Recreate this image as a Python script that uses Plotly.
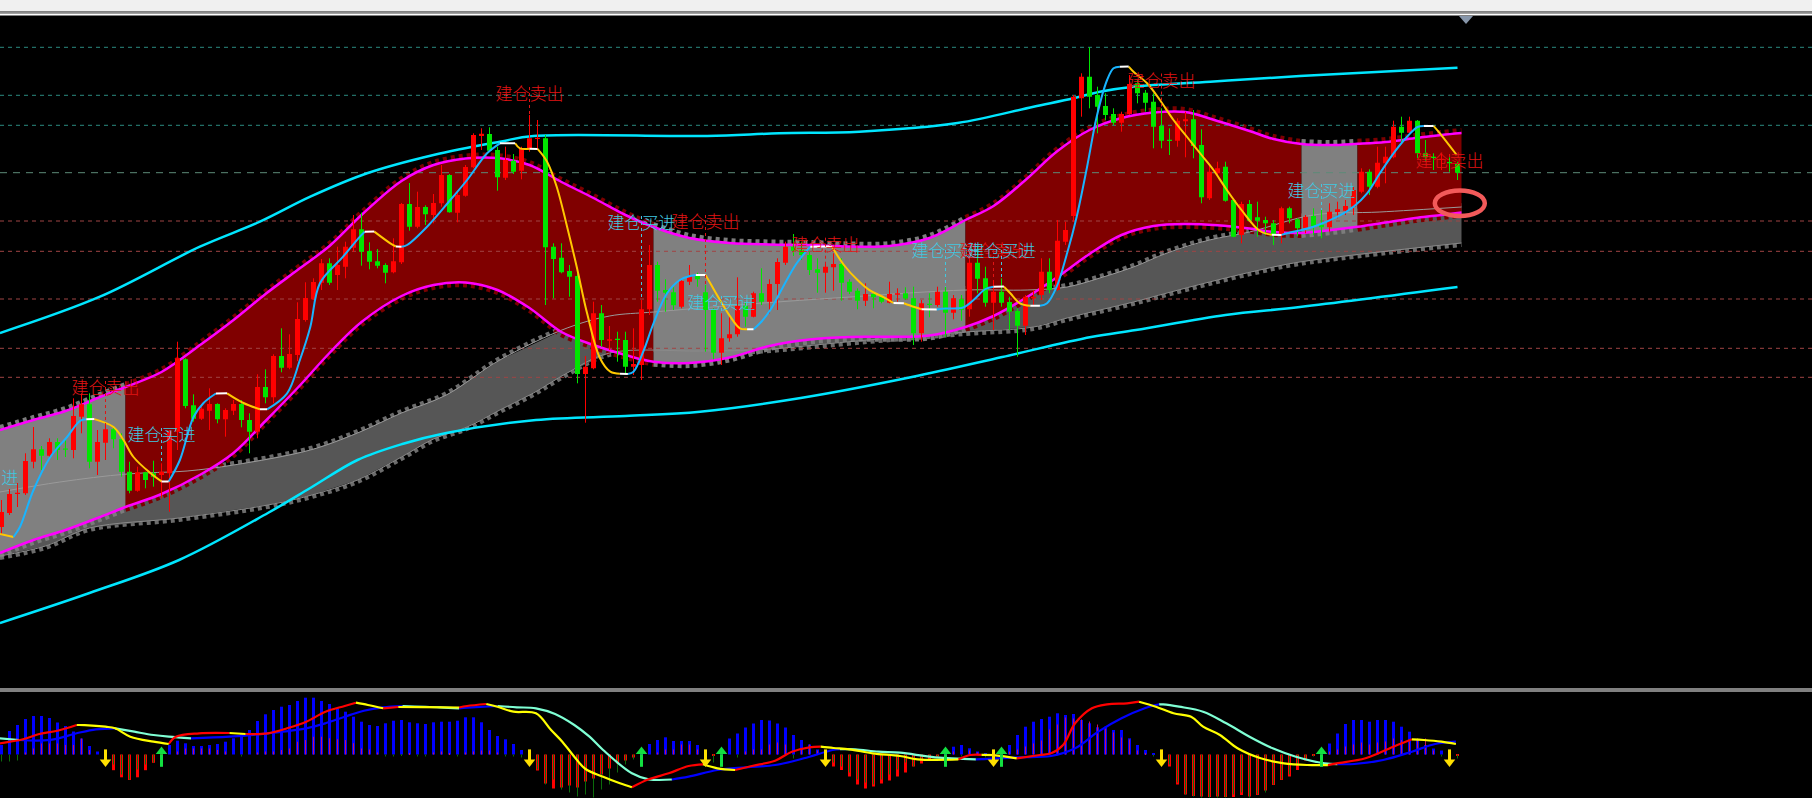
import plotly.graph_objects as go

# ---------------- price candles (main panel) ----------------
OPEN = [173, 187, 206, 206.7, 238.3, 250.7, 244.3, 258, 251, 250,
        283.3, 295.7, 238.3, 257.3, 270.7, 260.7, 228.3, 209.3, 227.7, 226.7,
        225, 226.7, 268.3, 340.7, 294.7, 281.3, 289.3, 296, 280.7, 289.3,
        296, 280, 268.3, 313, 302.7, 344, 332.3, 345, 380, 400.7,
        417.3, 436.7, 425, 433.3, 452.3, 470.7, 449, 438.7, 435, 427.7,
        437.7, 496, 473.3, 493, 485, 496.7, 525, 487.3, 504.3, 532.7,
        564, 566, 550, 522.3, 539.3, 529.3, 550.7, 561, 561.7, 453.3,
        442.3, 429, 424, 326, 331.7, 386.7, 359.3, 361.3, 360, 333.3,
        335, 390.7, 435, 410, 407.7, 393.3, 418.3, 424, 407.7, 390,
        347.3, 361.7, 365.7, 394, 383.3, 406.7, 398.3, 416, 437.3, 453.3,
        450, 445, 430.7, 427.3, 432.7, 436, 418.3, 409.3, 399.3, 406,
        403.3, 397.3, 405.3, 406.7, 401.7, 366.7, 396, 395, 408.3, 387.3,
        400.7, 390.7, 437.3, 421.7, 397.3, 408.3, 398, 389, 374.3, 401.7,
        405, 428.3, 410, 458.3, 484, 601.7, 623.3, 605, 594, 586,
        577.3, 586, 616.7, 607.3, 598.3, 574, 560, 559.3, 578.7, 580.7,
        555, 501.7, 526.7, 533.3, 500, 465, 496, 482.7, 480, 476.7,
        465, 491.7, 480.7, 471.7, 484, 475.3, 472.7, 488, 489.3, 493.3,
        508.3, 528.3, 513.3, 536.7, 542.7, 573.3, 567.3, 579.3, 546.7, 542.7,
        540, 537.3, 536]
HIGH = [200, 211, 217, 246.7, 273, 254, 261.7, 261.7, 260, 301.7,
        306.7, 306.7, 270, 275, 273.3, 266.7, 238.3, 233.3, 228.3, 239.3,
        236.7, 270, 358.3, 341.7, 305.7, 293.3, 311.7, 296.7, 291.7, 300,
        300, 286.7, 325.7, 330.7, 345.7, 371.7, 365.7, 397.7, 417.7, 421.7,
        441, 441.7, 453.3, 458.3, 485, 487.3, 457.7, 451, 436.7, 461.7,
        497, 517, 508.3, 494.7, 506, 535, 526, 508.3, 535, 566.7,
        571.7, 572.7, 553.3, 553.3, 546, 553.3, 585, 580, 565, 456.7,
        456.7, 435, 426.7, 344, 398.3, 395, 374, 368.3, 368.3, 371.7,
        400, 455, 438.3, 420.7, 412.7, 420.7, 435, 427.3, 415, 391.7,
        386.7, 385, 422.7, 398.3, 408.3, 431.7, 420.7, 441.7, 458.3, 466,
        458.3, 448.3, 441.7, 436, 446.7, 441.7, 420.7, 411.7, 416.7, 408.3,
        405, 418.3, 411.7, 412.7, 413.3, 400, 406.7, 413.3, 413.3, 405,
        405, 446.7, 453.3, 433.3, 420, 421.7, 403.3, 391.7, 405, 410,
        441.7, 441.7, 480, 478.3, 605, 626.7, 652.7, 613.3, 606.7, 591.7,
        588.3, 625, 620, 610, 606.7, 591.7, 571.7, 581.7, 588.3, 590,
        570.7, 535, 538.3, 538.3, 501.7, 498.3, 500, 498.3, 483.3, 480,
        493.3, 493.3, 481.7, 485, 491.7, 490, 496.7, 498.3, 500, 514,
        531.7, 530.7, 553.3, 553.3, 579.3, 583.3, 583.3, 580, 560, 546.7,
        546.7, 542.7, 538.3]
LOW = [165, 185, 193, 205, 231.7, 230, 240, 240, 243, 241.7,
       266.7, 231.7, 225, 240, 251.7, 223.3, 206.7, 208.3, 211.7, 213.3,
       201.7, 188.3, 250, 291.7, 278.3, 280, 270, 276.7, 263.3, 285,
       272.7, 246.7, 261.7, 296.7, 296.7, 327.7, 330.7, 339, 378.3, 400,
       410, 415, 410, 421.7, 448.3, 434.3, 430.7, 431.7, 416.7, 426.7,
       436, 469.3, 471.7, 475, 476.7, 493.3, 487.3, 477.7, 503.3, 531.7,
       550, 548.3, 509.3, 520, 526, 520.7, 548.3, 550, 395, 401.7,
       426.7, 403.3, 316.7, 277.3, 330.7, 353.3, 350, 338.3, 326.7, 325,
       320, 385, 398.3, 388.3, 390, 391.7, 415, 413.3, 348.3, 340.7,
       335, 358.3, 363.3, 373.3, 382.7, 395, 386.7, 390, 435, 444,
       440, 425, 407.3, 407.3, 409.3, 399.3, 406, 390.7, 394, 391.7,
       396.7, 396.7, 398.3, 400, 355, 358.3, 382.7, 393.3, 363.3, 380.7,
       379.3, 383.3, 406.7, 393.3, 370, 393.3, 370, 343.3, 365, 393.3,
       400, 406.7, 409.3, 455, 478.3, 583.3, 591.7, 566.7, 580, 575,
       568.3, 585, 596.7, 588.3, 551.7, 551.7, 545, 553.3, 542.7, 541.7,
       496.7, 500, 523.3, 498.3, 462.7, 456.7, 478.3, 463.3, 465, 455,
       456.7, 476.7, 464, 466.7, 465, 461.7, 468.3, 481.7, 485, 485,
       506.7, 505, 511.7, 516.7, 541.7, 558.3, 566.7, 541.7, 538.3, 530,
       530, 528.3, 520]
CLOSE = [188, 206, 207.3, 239, 250.7, 244.3, 258, 250, 250.3, 284,
         295.7, 238.3, 258, 270.7, 260.7, 228.3, 209.3, 227.7, 220, 223.3,
         228.3, 269.3, 341.7, 294, 281.3, 291.3, 296, 280.7, 290, 296,
         280, 268.3, 313, 302.7, 344, 332.3, 346, 381, 402, 418,
         436.7, 417.3, 435, 453.3, 470.7, 448.3, 438.3, 434.3, 427.3, 438.7,
         496, 473.3, 493, 485.7, 497, 525, 487.7, 505, 533, 565,
         566.3, 549.3, 522.7, 540, 528.3, 551.7, 561.7, 562.3, 452.7, 441,
         427.7, 423.3, 326, 333.3, 386.7, 360, 360.7, 360, 333.3, 336,
         390.7, 435, 409.3, 407.3, 394.7, 419, 424, 420.7, 390, 347.3,
         361.7, 365.7, 394, 383.3, 406.7, 398.3, 416, 438, 453.3, 449.3,
         445, 430, 427.3, 433.3, 436, 417.3, 408.3, 399.3, 406, 402.7,
         398.3, 406, 406.7, 401.5, 366.7, 396.7, 395, 408.3, 387.3, 401.7,
         390, 437.3, 421.3, 397.3, 408.3, 397.3, 388.3, 374.3, 403.3, 403.3,
         428.3, 410, 459.3, 470, 603.3, 623.3, 603.3, 593.3, 585, 577.3,
         586, 616, 606.7, 597.3, 573.3, 559.3, 559, 579.3, 580.7, 554,
         502.7, 528.3, 531.7, 499.3, 463.3, 496, 479.3, 479.3, 476.7, 465,
         491.7, 481.7, 471.7, 483.3, 474, 472.7, 488.3, 490.7, 494, 510,
         528.3, 513.3, 537.3, 543.3, 573.3, 567.3, 579.3, 546.7, 542.7, 542,
         541.3, 536.7, 527.3]
N = len(OPEN)
IDX = list(range(N))

# ---------------- channel band (magenta) ----------------
BAND_I = [-0.2, 4, 8, 12, 15.5, 20, 25, 29, 33, 37, 41, 45, 50, 54, 58, 62, 66, 70, 74, 78,
          81.5, 86, 91, 96, 101, 106, 111, 116, 120.5, 124, 128, 132, 136, 140, 144, 148,
          152, 156, 159, 162.5, 166, 169.5, 173, 177, 180, 182.5]
BAND_UP = [270, 280, 289, 302, 313, 328, 356, 380, 406, 430, 454, 485, 519, 535, 541.5, 542,
           535, 518, 502, 485, 473, 462, 457, 455.5, 455, 453.5, 454, 462, 480, 494, 520, 549,
           570, 582, 587.5, 588, 579, 569, 561, 556, 555, 556.2, 558, 562.2, 565, 567]
BAND_LO = [147, 160, 170, 182, 193, 206, 226, 247, 279, 312, 347, 378, 404, 415, 417.5, 410,
           392, 368, 355, 345, 338.3, 337, 342.5, 354, 360.5, 363, 363.2, 364.5, 373, 384, 402,
           423, 446, 465, 474, 476, 474.7, 471.4, 468, 467, 469.7, 473.2, 477.5, 482.3, 485, 487.5]
# state of the channel between signals
BAND_STATE = [(-0.2, 15.5, "flat"), (15.5, 81.5, "trend"), (81.5, 120.5, "flat"),
              (120.5, 162.5, "trend"), (162.5, 169.5, "flat"), (169.5, 182.5, "trend")]

# ---------------- slow ribbon ----------------
RIB_TOP_I = [-0.2, 7.3, 15.7, 23.2, 29, 38.6, 44.5, 50, 55.6, 62.3, 70.7, 76, 81.5, 93.6,
             106, 120.6, 128.2, 133.2, 137.3, 141.5, 145.7, 151, 156, 164, 172.3, 182.5]
RIB_TOP = [208, 218, 226, 229, 235, 250, 267, 287, 305, 340, 372, 384, 388, 396,
           403, 410, 410, 413, 422, 433, 447, 460, 468, 485, 488, 493]
RIB_BOT_I = [-0.2, 5.5, 11, 22.2, 33.3, 38.8, 44.5, 50, 54, 58.2, 62.3, 66.5, 70.7, 76,
             87.3, 94.3, 108.3, 120.6, 129, 133.2, 137.3, 141.5, 145.7, 151, 157.3, 162.3, 182.5]
RIB_BOT = [144, 154, 172, 182, 195, 205, 220, 243, 261, 273, 290, 307, 327, 347,
           349, 350, 360, 368, 373, 382, 390, 398, 407, 418, 430, 438, 457]

# ---------------- outer cyan envelope ----------------
CYAN_UP_I = [-0.2, 12.3, 24.8, 32.3, 38.6, 45.7, 54, 62.3, 66.5, 88.2, 97.2, 107.2, 119.5,
             129, 134, 137.3, 141.5, 151.1, 162.3, 182]
CYAN_UP = [367, 403.3, 453.3, 478.3, 503.3, 526.7, 545, 558.3, 564, 564, 566.7, 568.3, 577,
           593.3, 601.7, 608.3, 613.3, 618.3, 624, 632.3]
CYAN_LO_I = [-0.2, 11, 22.2, 33.3, 38.6, 44.5, 50.1, 55.6, 66.8, 78, 87.3, 99.9, 113.8,
             125.1, 136.2, 141.8, 153, 162.3, 182]
CYAN_LO = [77, 107, 140, 187, 212, 240, 256, 267, 280, 284, 288.3, 302, 323,
           343, 363, 370, 385, 393, 413]

# ---------------- fast moving average ----------------
MA_I = [-0.2, 1.5, 2.3, 4.0, 6.1, 8.2, 9.8, 10.6, 11.6, 14.0, 15.25, 16.5, 18.6, 20.0, 20.9,
        22.3, 24.0, 25.25, 26.8, 28.2, 30.25, 32.3, 33.2, 35.7, 37.3, 38.6, 39.8, 42.7, 44.8,
        45.4, 46.6, 48.6, 49.3, 50.0, 50.7, 53.2, 56.1, 58.2, 60.7, 62.3, 64.2, 64.8, 66.0,
        67.0, 68.2, 69.4, 70.7, 71.9, 73.2, 74.8, 76.1, 77.3, 78.3, 79.0, 80.3, 81.5, 83.2,
        84.8, 86.1, 86.8, 88.0, 88.6, 89.8, 91.1, 92.3, 93.2, 94.0, 94.8, 96.1, 97.7, 99.4,
        101.1, 102.5, 103.8, 105.3, 107, 108.6, 110.3, 111.5, 112.8, 114, 115, 116.9, 118.0,
        120.2, 121.5, 123.0, 124.0, 125.3, 126.1, 127.3, 128.6, 129.8, 130.7, 131.9, 133.2,
        134.4, 135.7, 136.9, 138.2, 139.0, 139.8, 140.9, 141.5, 143.2, 144.8, 146.5, 148.2,
        150, 151.5, 153, 155, 157.3, 158.8, 160, 160.7, 164, 167, 169, 170.7, 172.3, 174,
        175.7, 177.0, 177.8, 179.0, 179.8, 181.9]
MA_P = [166, 163, 173, 210, 243, 263, 279, 280.7, 280.9, 273, 260, 243, 227, 218.6, 218.4,
        240, 283, 297, 306.5, 306.7, 297, 290.8, 290.7, 306.7, 340, 373, 416.7, 443.3, 463.3,
        468.3, 468.4, 456.7, 453.5, 453.3, 455, 473.3, 500, 520, 546.7, 556.7, 556.8, 551.7, 551.2,
        551.1, 538.3, 513.3, 473.3, 433.3, 386.7, 342, 328.3, 326.2, 326.1, 328.3, 350, 376.7, 406.7,
        420, 424, 425, 425.1, 416.7, 400, 383.3, 371.7, 370.8, 370.7, 376.7, 390, 413.3, 436.7,
        453.3, 453.5, 453.4, 435, 420, 409.3, 402.7, 397, 396.8, 393.3, 390.8, 390.6, 391.5,
        392.5, 400, 411, 413.3, 413.4, 406.7, 396.7, 394.3, 394.2, 396.7, 413.3, 446.7,
        483.3, 533.3, 583.3, 620, 631.7, 633.3, 633.4, 628.3, 616.7, 600, 580, 563,
        545, 530, 512, 490, 469, 465.2, 465.1, 466.7, 473.3, 483.3, 493.3, 506.7, 526.7, 546.7,
        563.3, 573, 574, 574.1, 566.7, 545]

# ---------------- horizontal levels ----------------
LEVELS = [652.7, 604.7, 574.7, 527.3, 479, 448.7, 401, 351.7, 322.7]
LEVEL_KIND = ["res", "res", "res", "bid", "sup", "sup", "sup", "sup", "sup"]

# ---------------- signals ----------------
SELL_I = [13, 66, 88, 103, 124, 145, 181]
SELL_TEXT_P = [310, 604, 476, 453.3, 447, 617.5, 537]
BUY_I = [-2.16, 20, 80, 90, 118, 125, 165]
BUY_TEXT_P = [220, 263, 475, 395, 447, 447, 507]
SELL_LABEL = "建仓卖出"
BUY_LABEL = "建仓买进"
MARK_I, MARK_P = 182.29, 496.7

# ---------------- lower oscillator ----------------
HIST = [9.5, 23.5, 29.5, 35.5, 38.5, 38.5, 36.5, 32, 28.5, 23,
        16, 8.5, 3, -3, -15.7, -22.8, -25.5, -22.8, -15.7, -8.3,
        -2, 9.5, 13.8, 11.2, 8.5, 8.5, 9.5, 10.5, 12.8, 16.2,
        21.2, 24.5, 33.5, 40.2, 44.5, 47.8, 49.5, 53.5, 56.8, 56.8,
        53.5, 50.5, 46.2, 42.8, 37.8, 32.8, 29.5, 28.5, 31.2, 33.8,
        34.5, 32.2, 31.2, 30.5, 32.2, 32.8, 32.8, 33.8, 37.2, 37.2,
        32.2, 24.5, 18.5, 15.2, 10.5, 4.5, 1, -16, -29, -34,
        -33, -31, -33, -27, -24, -20, -14, -9, -6, -3,
        1, 10.5, 14.5, 17.2, 13.5, 13.5, 13.5, 9.5, -2, -1,
        2, 16, 21, 27, 31, 34.5, 34, 31, 27, 19.5,
        14.5, 10, 5, -1, -12, -15.5, -22, -30, -34, -32,
        -29, -26, -22, -18, -12, -9, -5, -2, 1, 7.8,
        9.5, 6.2, 3, 1.5, -1, 2, 9.5, 19.5, 27.8, 32.8,
        35.5, 37.8, 41.2, 39.5, 40.5, 34.5, 31.2, 27.2, 27.8, 24.5,
        24.5, 16.2, 9.5, 4.5, 1, -3, -12, -30, -40, -41.5,
        -42, -42.5, -42, -42.5, -42.5, -40.5, -42, -40.5, -36, -30.5,
        -25.5, -22, -15.5, -6, -1, 3, 11, 21, 30.5, 34.5,
        34.5, 32.8, 34.5, 34.5, 32.8, 27.8, 22.8, 14.5, 9.5, 6,
        4, 1, -1.5]
HIST2 = [-7, -7, -6, 2, 6, 11, 11, 11, 9.5, 9.5,
         16, 4.5, 0, -2, -10, -20, -25, -15, -10, -8,
         -3, 0, 3, 6, 6, 6, 6, 4.5, 3, 0,
         -2, 0, 2, 3, 3, 4.5, 6, 12.8, 14.5, 17.8,
         17.8, 16.2, 15.2, 14.5, 11.2, 6, 5, 2, -2, -2,
         -1, 1, -2, -2, 2, 3, 1, -2, 2, 3,
         4, 4, 2, -2, -2, -3, -5, -15, -30, -25,
         -35, -38, -42, -40, -43, -35, -30, -18, -10, -5,
         -2, 0, 2, 5, 5, 10, 10, 5, -3, -8,
         -4, 0, -3, 3, 5, 5, 10, 12, 10, -4,
         5, 10, 4, -2, -8, -12, -18, -25, -28, -30,
         -25, -20, -15, -8, -12, -6, -3, -2, 0, 3,
         -2, 4, 2, -3, -2, 0, 3, 5, 8, 11,
         14, 25, 30, 37, 36, 35, 33, 30, 26, 22,
         17, 15, 4, 1, -2, -4, -10, -28, -40, -42,
         -43, -43, -43, -43, -40, -38, -43, -40, -38, -30,
         -25, -20, -10, -4, -2, -1, 3, 5, 8, 10,
         12, 10, 12, 13, 16, 14.5, 13, 16, 16, 4,
         -2, -3, -4]
FAST_I = [-0.2, 2.7, 4.6, 7, 9.4, 10.4, 13, 14.2, 16.1, 19, 20.9, 21.8, 24.7, 28.5, 30.5, 33.3,
          35.7, 38.1, 40.5, 42.9, 44.3, 45.8, 47.7, 49.6, 52.5, 57.2, 58.2, 60.6, 62, 64, 66.8,
          68.7, 70.1, 71.6, 73, 75.2, 77.3, 78.8, 80.9, 83.4, 85.9, 87.7, 89.5, 91.7, 93.8, 96.7,
          98.8, 101, 102.4, 104, 106, 108.9, 112.3, 114.5, 119.6, 121.1, 122.5, 124, 126.9,
          129.8, 131.2, 132.7, 134.2, 136.3, 138.2, 140.7, 142.2, 144.3, 146.5, 148.7, 150.2,
          152.3, 154.5, 157.4, 160.3, 163.2, 165.8, 166.9, 170.5, 174.2, 176.3, 177.8, 180, 181.8]
FAST = [11.2, 15.2, 20.2, 23.8, 29.5, 29.4, 27.8, 26.2, 17.8, 12.8, 10.5, 17.8, 21.2, 21.5, 20.5,
        21.2, 26.2, 32.8, 42.8, 48.5, 51.8, 49.5, 46.2, 47.5, 47.3, 47.0, 48.5, 50.5, 47.8, 42.8,
        41.2, 24.5, 12.8, -2.2, -14.5, -22.2, -28.8, -32.8, -24.8, -18.8, -11.5, -9.8, -13.8,
        -15.5, -11.5, -6.2, 2.8, 7.2, 7.8, 6.5, 5.2, 1.2, -1.5, -4.8, -5.0, -0.5, -0.3, -0.6,
        -3.8, -0.5, 1.2, 9.5, 31.2, 46.2, 50.2, 51.2, 52.8, 47.8, 41.2, 37.8, 27.8, 19.5, 6.2,
        -3.8, -8.8, -10.5, -10.6, -8.8, -3.8, 8.5, 15.2, 14.5, 12.8, 10.5]
SLOW_I = [-0.2, 2.2, 6.1, 9.4, 11.8, 14.2, 16.6, 19, 20.9, 23.7, 28.5, 33.3, 38.1, 40.5, 42.9,
          45.3, 47.7, 50.1, 54.8, 57.2, 58.2, 62, 64.4, 66.8, 69.2, 71.6, 73.5, 75.2, 78.8, 80.9,
          83.8, 85.9, 89.5, 93.1, 96.7, 100.3, 103.9, 104.8, 106.7, 109.6, 112.3, 116.7, 121.8,
          122.5, 126.9, 131.2, 134.2, 137.1, 140, 142.9, 144.7, 145.2, 147.2, 150.2, 153.1, 156,
          158.9, 161.8, 165.4, 167, 169.1, 172.7, 176.3, 179.2, 181.8]
SLOW = [16.2, 14.5, 14.6, 21.2, 25.2, 26.2, 22.8, 19.5, 17.8, 16.2, 17.8, 21.2, 26.2, 31.2, 37.8,
        43.8, 47.2, 48.5, 47.2, 46.2, 46.8, 48.5, 47.2, 46.2, 40.5, 29.5, 17.8, 4.5, -18.8, -24.8,
        -25.0, -22.2, -15.5, -12.8, -10.5, -3.8, 4.5, 5.3, 5.2, 2.8, 1.8, -2.8, -4.8,
        -4.7, -2.8, -1.5, 6.2, 22.8, 36.2, 46.2, 50.2, 50.1, 47.8, 42.8, 31.2, 17.8,
        6.2, -2.2, -8.8, -9.6, -9.5, -5.5, 2.8, 10.5, 12.8]

# ======================= figure =======================
W, H = 1812, 798
PX = 8.0                      # pixels per bar
X0 = -1.5 / PX                # bar 0 centred at pixel 1.5
XR = [X0, X0 + W / PX]

fig = go.Figure()
main = dict(xaxis="x", yaxis="y")
low = dict(xaxis="x2", yaxis="y2")


def line(xs, ys, color, width, dash=None, shape="linear", **kw):
    fig.add_trace(go.Scatter(x=xs, y=ys, mode="lines", hoverinfo="skip",
                             line=dict(color=color, width=width, dash=dash, shape=shape),
                             **main, **kw))


def slope_runs(xs, ys, up, down, flat=None, tol=0.5):
    runs = []
    for k in range(len(xs) - 1):
        dy = ys[k + 1] - ys[k]
        if flat is not None and abs(dy) < tol:
            c = flat
        elif dy > 0:
            c = up
        else:
            c = down
        if runs and runs[-1][0] == c:
            runs[-1][1].append(xs[k + 1]); runs[-1][2].append(ys[k + 1])
        else:
            runs.append([c, [xs[k], xs[k + 1]], [ys[k], ys[k + 1]]])
    groups = {}
    for c, rx, ry in runs:
        gx, gy = groups.setdefault(c, ([], []))
        gx.extend(rx + [None]); gy.extend(ry + [None])
    return groups


# --- slow ribbon (beads, then body)
line(RIB_TOP_I, [v + 2 for v in RIB_TOP], "#6c6c6c", 4, dash="4px,4px", shape="spline")
line(RIB_BOT_I, [v - 2 for v in RIB_BOT], "#6c6c6c", 4, dash="4px,4px", shape="spline")
fig.add_trace(go.Scatter(x=RIB_TOP_I + RIB_BOT_I[::-1], y=RIB_TOP + RIB_BOT[::-1],
                         mode="lines", fill="toself", fillcolor="#565656",
                         line=dict(width=0), hoverinfo="skip", **main))

# --- channel band fills
STATE_COLOR = {"flat": "#808080", "trend": "#800000"}
for a, b, st in BAND_STATE:
    ks = [k for k, v in enumerate(BAND_I) if a <= v <= b]
    xs = [BAND_I[k] for k in ks]
    bead = "#7a0000" if st == "trend" else "#7c7c7c"
    line(xs, [BAND_UP[k] + 2.5 for k in ks], bead, 5, dash="4px,4px", shape="spline")
    line(xs, [BAND_LO[k] - 2.5 for k in ks], bead, 5, dash="4px,4px", shape="spline")
for a, b, st in BAND_STATE:
    ks = [k for k, v in enumerate(BAND_I) if a <= v <= b]
    xs = [BAND_I[k] for k in ks]
    fig.add_trace(go.Scatter(x=xs, y=[BAND_LO[k] for k in ks], mode="lines",
                             line=dict(width=0, shape="spline"), hoverinfo="skip", **main))
    fig.add_trace(go.Scatter(x=xs, y=[BAND_UP[k] for k in ks], mode="lines", fill="tonexty",
                             fillcolor=STATE_COLOR[st], line=dict(width=0, shape="spline"),
                             hoverinfo="skip", **main))

# --- horizontal dashed levels
LEVEL_STYLE = {"res": ("#2b8a80", "4px,4px"), "bid": ("#5d8a78", "7px,6px"),
               "sup": ("#a04444", "4px,4px")}
for lv, kind in zip(LEVELS, LEVEL_KIND):
    c, d = LEVEL_STYLE[kind]
    line([XR[0], XR[1]], [lv, lv], c, 1, dash=d)

# --- ribbon edge lines
line(RIB_TOP_I, RIB_TOP, "#9a9a9a", 1, shape="spline")
line(RIB_BOT_I, RIB_BOT, "#8a8a8a", 1, shape="spline")

# --- cyan envelope
line(CYAN_UP_I, CYAN_UP, "#00e6ff", 2.5, shape="spline")
line(CYAN_LO_I, CYAN_LO, "#00e6ff", 2.5, shape="spline")

# --- magenta channel lines
line(BAND_I, BAND_UP, "#ff00ff", 2.5, shape="spline")
line(BAND_I, BAND_LO, "#ff00ff", 2.5, shape="spline")

# --- candles (drawn as scatter shapes so they sit above the filled areas)
UPC, DNC = "#ff0000", "#00e600"
HW = 2.5 / PX
for col, test in ((UPC, lambda o, c: c >= o), (DNC, lambda o, c: c < o)):
    wx, wy, bx, by = [], [], [], []
    for i in IDX:
        o, c = OPEN[i], CLOSE[i]
        if not test(o, c):
            continue
        wx += [i, i, None]
        wy += [LOW[i], HIGH[i], None]
        lo = min(o, c)
        hi = max(max(o, c), lo + 1.2)
        bx += [i - HW, i + HW, i + HW, i - HW, i - HW, None]
        by += [lo, lo, hi, hi, lo, None]
    line(wx, wy, col, 1)
    fig.add_trace(go.Scatter(x=bx, y=by, mode="lines", fill="toself", fillcolor=col,
                             line=dict(width=0, color=col), hoverinfo="skip", **main))

# --- fast MA, coloured by direction
for c, (gx, gy) in slope_runs(MA_I, MA_P, "#19b4ff", "#ffc800", "#ffffff").items():
    line(gx, gy, c, 2, shape="spline")

# --- signal markers
SELL_C, BUY_C = "#e01414", "#40c8e0"
for i, tp in zip(SELL_I, SELL_TEXT_P):
    line([i, i], [tp + 9, HIGH[i]], SELL_C, 1, dash="3px,3px")
for i, tp in zip(BUY_I, BUY_TEXT_P):
    if i >= 0:
        line([i, i], [tp + 9, HIGH[i]], BUY_C, 1, dash="3px,3px")
order = sorted([(i, tp, SELL_LABEL, SELL_C) for i, tp in zip(SELL_I, SELL_TEXT_P)] +
               [(i, tp, BUY_LABEL, BUY_C) for i, tp in zip(BUY_I, BUY_TEXT_P)])
for i, tp, lab, c in order:
    fig.add_trace(go.Scatter(x=[i], y=[tp], mode="text", text=[lab], textposition="middle center",
                             textfont=dict(family="Noto Sans CJK SC", size=17, color=c, weight=300),
                             hoverinfo="skip", cliponaxis=True, **main))

# ======================= lower panel =======================
fig.add_trace(go.Bar(x=IDX, y=HIST, width=3 / PX,
                     marker=dict(color=["#0000ff" if v >= 0 else "#ff0000" for v in HIST],
                                 line=dict(width=0)), hoverinfo="skip", **low))
fig.add_trace(go.Bar(x=IDX, y=HIST2, width=1 / PX,
                     marker=dict(color=["#c8145a" if v >= 0 else "#0b6b0b" for v in HIST2],
                                 line=dict(width=0)), hoverinfo="skip", **low))
for c, (gx, gy) in slope_runs(SLOW_I, SLOW, "#0000ff", "#7fffd4").items():
    fig.add_trace(go.Scatter(x=gx, y=gy, mode="lines", line=dict(color=c, width=2.2, shape="spline"),
                             hoverinfo="skip", **low))
for c, (gx, gy) in slope_runs(FAST_I, FAST, "#ff0000", "#ffff00").items():
    fig.add_trace(go.Scatter(x=gx, y=gy, mode="lines", line=dict(color=c, width=2.2, shape="spline"),
                             hoverinfo="skip", **low))
# arrows
sx = [i for i in SELL_I]
bx = [i for i in BUY_I if i >= 0]
fig.add_trace(go.Scatter(x=sx, y=[-0.5] * len(sx), mode="markers", hoverinfo="skip",
                         marker=dict(symbol="line-ns", size=8, line=dict(color="#ffe000", width=3)), **low))
fig.add_trace(go.Scatter(x=sx, y=[-7.5] * len(sx), mode="markers", hoverinfo="skip",
                         marker=dict(symbol="triangle-down", size=10, color="#ffe000", line=dict(width=0)), **low))
fig.add_trace(go.Scatter(x=bx, y=[-6] * len(bx), mode="markers", hoverinfo="skip",
                         marker=dict(symbol="line-ns", size=9, line=dict(color="#12e040", width=3)), **low))
fig.add_trace(go.Scatter(x=bx, y=[3] * len(bx), mode="markers", hoverinfo="skip",
                         marker=dict(symbol="triangle-up", size=10, color="#12e040", line=dict(width=0)), **low))

# ======================= layout =======================
def py(px):  # pixel row -> paper y
    return 1 - px / H


shapes = [
    dict(type="rect", xref="paper", yref="paper", x0=0, x1=1, y0=py(11.5), y1=1,
         fillcolor="#f0f0f0", line=dict(width=0), layer="above"),
    dict(type="rect", xref="paper", yref="paper", x0=0, x1=1, y0=py(13.5), y1=py(11.5),
         fillcolor="#8c8c8c", line=dict(width=0), layer="above"),
    dict(type="rect", xref="paper", yref="paper", x0=0, x1=1, y0=py(15.5), y1=py(13.5),
         fillcolor="#ffffff", line=dict(width=0), layer="above"),
    dict(type="rect", xref="paper", yref="paper", x0=0, x1=1, y0=py(689.6), y1=py(688.6),
         fillcolor="#ffffff", line=dict(width=0), layer="above"),
    dict(type="rect", xref="paper", yref="paper", x0=0, x1=1, y0=py(691.6), y1=py(690.6),
         fillcolor="#ffffff", line=dict(width=0), layer="above"),
    dict(type="path", xref="paper", yref="paper", layer="above",
         path=f"M {1459/W},{py(16)} L {1473/W},{py(16)} L {1466/W},{py(24)} Z",
         fillcolor="#8796aa", line=dict(width=0)),
    dict(type="circle", xref="x", yref="y", xsizemode="pixel", ysizemode="pixel",
         xanchor=MARK_I, yanchor=MARK_P, x0=-25, x1=25, y0=-12.8, y1=12.8,
         line=dict(color="#f25a5a", width=4.5), layer="above"),
]

fig.update_layout(
    width=W, height=H, margin=dict(l=0, r=0, t=0, b=0),
    paper_bgcolor="#000000", plot_bgcolor="#000000",
    showlegend=False, barmode="overlay", shapes=shapes,
    xaxis=dict(range=XR, visible=False, fixedrange=True, anchor="y"),
    xaxis2=dict(range=XR, visible=False, fixedrange=True, anchor="y2"),
    yaxis=dict(domain=[110 / H, 782 / H], range=[12, 684], visible=False, fixedrange=True),
    yaxis2=dict(domain=[0, 106 / H], range=[-43.5, 62.5], visible=False, fixedrange=True),
)

fig.write_html("out.html", config={"displayModeBar": False},
               post_script="document.body.style.margin='0px';document.body.style.overflow='hidden';")
